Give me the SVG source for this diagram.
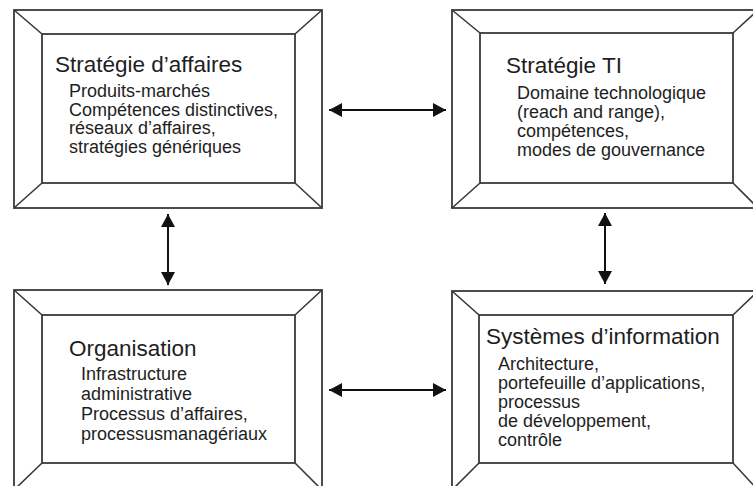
<svg xmlns="http://www.w3.org/2000/svg" width="753" height="486" viewBox="0 0 753 486">
<defs>
<style>
.frame{fill:#fff;stroke:#3a3a3a;stroke-width:1.8;stroke-linejoin:miter}
.bev{fill:none;stroke:#3a3a3a;stroke-width:1.6}
.title{font-family:"Liberation Sans",Arial,sans-serif;font-size:22.5px;fill:#1e1e1e}
.body{font-family:"Liberation Sans",Arial,sans-serif;font-size:18px;fill:#1e1e1e}
.conn{stroke:#111;stroke-width:2;fill:none}
</style>
<marker id="ah" viewBox="0 0 13 14" refX="13" refY="7" markerWidth="13" markerHeight="14" markerUnits="userSpaceOnUse" orient="auto-start-reverse">
<path d="M0,0 L13,7 L0,14 Z" fill="#111"/>
</marker>
</defs>
<rect width="753" height="486" fill="#fff"/>

<g id="strategie-affaires">
<rect class="frame" x="14" y="10" width="308" height="198"/>
<rect class="frame" x="42" y="34" width="253" height="149"/>
<path class="bev" d="M14,10 L42,34 M322,10 L295,34 M14,208 L42,183 M322,208 L295,183"/>
<text class="title" x="55" y="72">Stratégie d’affaires</text>
<text class="body" x="69" y="97">Produits-marchés</text>
<text class="body" x="69" y="115.5">Compétences distinctives,</text>
<text class="body" x="69" y="134">réseaux d’affaires,</text>
<text class="body" x="69" y="152.5">stratégies génériques</text>
</g>

<g id="strategie-ti">
<rect class="frame" x="452" y="10" width="306" height="198"/>
<rect class="frame" x="480" y="33" width="253" height="150"/>
<path class="bev" d="M452,10 L480,33 M758,10 L733,33 M452,208 L480,183 M758,208 L733,183"/>
<text class="title" x="506" y="73">Stratégie TI</text>
<text class="body" x="517" y="99">Domaine technologique</text>
<text class="body" x="517" y="118">(reach and range),</text>
<text class="body" x="517" y="137">compétences,</text>
<text class="body" x="517" y="156">modes de gouvernance</text>
</g>

<g id="organisation">
<rect class="frame" x="14" y="290" width="308" height="200"/>
<rect class="frame" x="42" y="315" width="253" height="148"/>
<path class="bev" d="M14,290 L42,315 M322,290 L295,315 M14,490 L42,463 M322,490 L295,463"/>
<text class="title" x="69" y="356">Organisation</text>
<text class="body" x="81" y="380">Infrastructure</text>
<text class="body" x="81" y="400">administrative</text>
<text class="body" x="81" y="420">Processus d’affaires,</text>
<text class="body" x="81" y="440">processusmanagériaux</text>
</g>

<g id="systemes-information">
<rect class="frame" x="452" y="291" width="306" height="199"/>
<rect class="frame" x="479" y="315" width="254" height="148"/>
<path class="bev" d="M452,291 L479,315 M758,291 L733,315 M452,490 L479,463 M758,490 L733,463"/>
<text class="title" x="486" y="344">Systèmes d’information</text>
<text class="body" x="498" y="370">Architecture,</text>
<text class="body" x="498" y="389">portefeuille d’applications,</text>
<text class="body" x="498" y="408">processus</text>
<text class="body" x="498" y="427">de développement,</text>
<text class="body" x="498" y="446">contrôle</text>
</g>

<g id="connectors">
<line class="conn" x1="329" y1="110" x2="446" y2="110" marker-start="url(#ah)" marker-end="url(#ah)"/>
<line class="conn" x1="329" y1="390" x2="446" y2="390" marker-start="url(#ah)" marker-end="url(#ah)"/>
<line class="conn" x1="168" y1="214" x2="168" y2="285" marker-start="url(#ah)" marker-end="url(#ah)"/>
<line class="conn" x1="605" y1="213" x2="605" y2="284" marker-start="url(#ah)" marker-end="url(#ah)"/>
</g>
</svg>
